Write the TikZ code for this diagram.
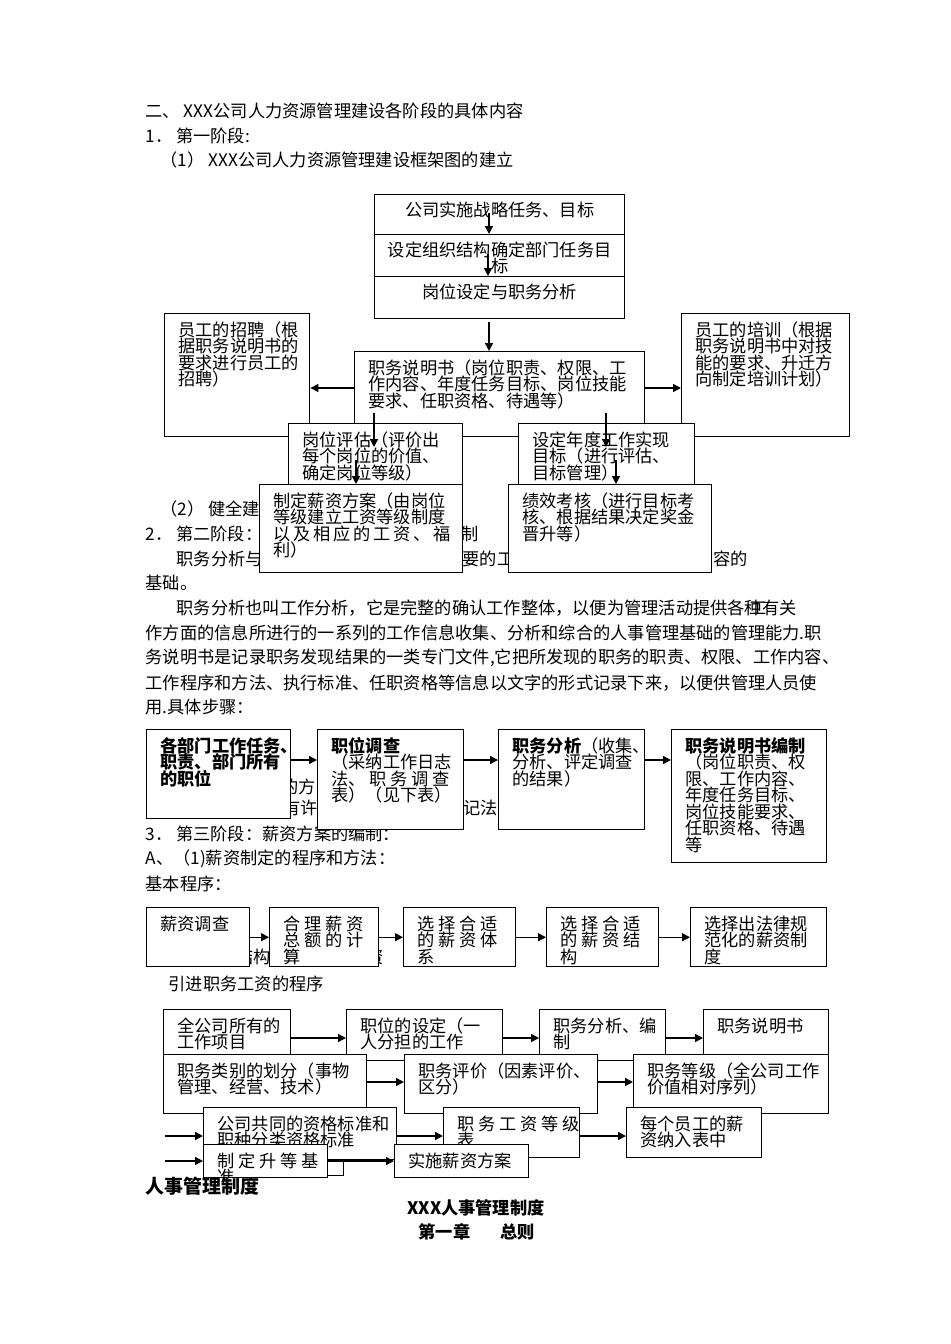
\documentclass[tikz,border=0pt]{standalone}
\usepackage{fontspec}
\setmainfont{Noto Sans CJK SC}
\usetikzlibrary{arrows.meta}
\setlength{\lineskiplimit}{-20pt}

\tikzset{
	>={Triangle[length=4.5pt,width=4.5pt]},
	wz/.style={inner sep=0pt, anchor=west, font=\fontsize{9.8}{9.4}\selectfont},
	kuang/.style={draw, fill=white, inner sep=0pt, anchor=north west},
	wh/.style 2 args={minimum width=#1*0.02cm, minimum height=#2*0.02cm},
	kt/.style={path picture={\node[draw=none, fill=none, inner sep=0pt, minimum width=0pt, minimum height=0pt, anchor=north west, align=left, font=\fontsize{9.8}{9.4}\selectfont] at ([xshift=0.26cm, yshift=-0.02cm]path picture bounding box.north west) {\rule{0pt}{1.2em}#1};}},
	kc/.style={path picture={\node[draw=none, fill=none, inner sep=0pt, minimum width=0pt, minimum height=0pt, anchor=north, align=center, font=\fontsize{9.8}{9.4}\selectfont] at ([yshift=-0.0cm]path picture bounding box.north) {\rule{0pt}{1.2em}#1};}},
}

\begin{document}
\begin{tikzpicture}[x=0.02cm, y=-0.02cm, line width=0.8pt]
	\path[use as bounding box, fill=white] (0,0) rectangle (950,1344);

	% text of the page
	\node[wz] (t1) at (145,111) {二、 XXX公司人力资源管理建设各阶段的具体内容};
	\node[wz] (t2) at (145,136) {1． 第一阶段:};
	\node[wz] (t3) at (160,160) {（1） XXX公司人力资源管理建设框架图的建立};
	\node[wz] (t4) at (160,509) {（2） 健全建立};
	\node[wz] (t5) at (145,534) {2． 第二阶段：};
	\node[wz] (t6) at (461,534) {制};
	\node[wz] (t7) at (176,559) {职务分析与};
	\node[wz] (t8) at (462,559) {要的工};
	\node[wz] (t9) at (713,559) {容的};
	\node[wz] (t10) at (145,583) {基础。};
	\node[wz] (t11) at (176,608) {职务分析也叫工作分析，它是完整的确认工作整体，以便为管理活动提供各种有关};
	\node[wz] (t11g) at (749,608) {工};
	\node[wz] (t12) at (145,633) {作方面的信息所进行的一系列的工作信息收集、分析和综合的人事管理基础的管理能力.职};
	\node[wz] (t13) at (145,658) {务说明书是记录职务发现结果的一类专门文件,它把所发现的职务的职责、权限、工作内容、};
	\node[wz] (t14) at (145,683) {工作程序和方法、执行标准、任职资格等信息以文字的形式记录下来，以便供管理人员使};
	\node[wz] (t15) at (145,707) {用.具体步骤：};
	\node[wz] (t16) at (281,787) {的方法};
	\node[wz] (t17) at (283,808) {有许};
	\node[wz] (t18) at (463,808) {记法};
	\node[wz] (t19) at (145,834) {3． 第三阶段：薪资方案的编制：};
	\node[wz] (t20) at (145,859) {A、（1)薪资制定的程序和方法：};
	\node[wz] (t21) at (145,884) {基本程序：};
	\node[wz] (t22) at (236,957) {结构};
	\node[wz] (t23) at (366,957) {资};
	\node[wz] (t24) at (168,984) {引进职务工资的程序};
	\node[wz, font=\fontsize{10.8}{13}\selectfont\bfseries] (t25) at (145,1186) {人事管理制度};
	\node[wz, anchor=center, font=\fontsize{9.8}{12}\selectfont\bfseries] (t26) at (476,1208) {XXX人事管理制度};
	\node[wz, font=\fontsize{9.8}{12}\selectfont\bfseries] (t27) at (418,1232) {第一章\hspace{0.6cm}总则};

	% framework
	\node[kuang, wh={250}{40}, kc={公司实施战略任务、目标}] (zl1) at (374,194) {};
	\node[kuang, wh={250}{42}, kc={设定组织结构确定部门任务目\\标}] (zl2) at (374,234) {};
	\node[kuang, wh={250}{42}, kc={岗位设定与职务分析}] (zl3) at (374,276) {};
	\node[kuang, wh={145}{123}, kt={员工的招聘（根\\据职务说明书的\\要求进行员工的\\招聘）}] (zhaopin) at (164,313) {};
	\node[kuang, wh={168}{123}, kt={员工的培训（根据\\职务说明书中对技\\能的要求、升迁方\\向制定培训计划）}] (peixun) at (681,313) {};
	\node[kuang, wh={290}{85}, kt={职务说明书（岗位职责、权限、工\\作内容、年度任务目标、岗位技能\\要求、任职资格、待遇等）}] (smsh) at (354,351) {};
	\node[kuang, wh={174}{61}, kt={岗位评估（评价出\\每个岗位的价值、\\确定岗位等级）}] (gwpg) at (288,423) {};
	\node[kuang, wh={176}{61}, kt={设定年度工作实现\\目标（进行评估、\\目标管理）}] (ndmb) at (518,423) {};
	\node[kuang, wh={203}{88}, kt={制定薪资方案（由岗位\\等级建立工资等级制度\\\makebox[3.54cm][l]{以\hfill 及\hfill 相\hfill 应\hfill 的\hfill 工\hfill 资\hfill 、\hfill 福}\\利）}] (xzfa) at (259,484) {};
	\node[kuang, wh={203}{88}, kt={绩效考核（进行目标考\\核、根据结果决定奖金\\晋升等）}] (jxkh) at (508,484) {};

	% steps
	\node[kuang, wh={144}{89}, kt={\textbf{各部门工作任务、}\\\textbf{职责、部门所有}\\\textbf{的职位}}] (bz1) at (146,729) {};
	\node[kuang, wh={146}{100}, kt={\textbf{职位调查}\\（采纳工作日志\\法、 职 务 调 查\\表）（见下表）}] (bz2) at (317,729) {};
	\node[kuang, wh={146}{100}, kt={\textbf{职务分析}（收集、\\分析、评定调查\\的结果）}] (bz3) at (498,729) {};
	\node[kuang, wh={155}{133}, kt={\textbf{职务说明书编制}\\（岗位职责、权\\限、工作内容、\\年度任务目标、\\岗位技能要求、\\任职资格、待遇\\等}] (bz4) at (671,729) {};

	% basic procedure
	\node[kuang, wh={103}{59}, kt={薪资调查}] (xz1) at (146,907) {};
	\node[kuang, wh={109}{59}, kt={合 理 薪 资\\总 额 的 计\\算}] (xz2) at (269,907) {};
	\node[kuang, wh={112}{59}, kt={选 择 合 适\\的 薪 资 体\\系}] (xz3) at (403,907) {};
	\node[kuang, wh={112}{59}, kt={选 择 合 适\\的 薪 资 结\\构}] (xz4) at (546,907) {};
	\node[kuang, wh={136}{59}, kt={选择出法律规\\范化的薪资制\\度}] (xz5) at (690,907) {};

	% job wage procedure
	\node[kuang, wh={127}{51}, kt={全公司所有的\\工作项目}] (gz1) at (163,1009) {};
	\node[kuang, wh={156}{51}, kt={职位的设定（一\\人分担的工作}] (gz2) at (346,1009) {};
	\node[kuang, wh={126}{51}, kt={职务分析、编\\制}] (gz3) at (539,1009) {};
	\node[kuang, wh={125}{51}, kt={职务说明书}] (gz4) at (703,1009) {};
	\node[kuang, wh={203}{59}, kt={职务类别的划分（事物\\管理、经营、技术）}] (gz5) at (163,1054) {};
	\node[kuang, wh={193}{59}, kt={职务评价（因素评价、\\区分）}] (gz6) at (404,1054) {};
	\node[kuang, wh={195}{59}, kt={职务等级（全公司工作\\价值相对序列）}] (gz7) at (633,1054) {};
	\node[kuang, wh={193}{52}, kt={公司共同的资格标准和\\职种分类资格标准}] (gz8) at (203,1107) {};
	\node[kuang, wh={136}{50}, kt={职 务 工 资 等 级\\表}] (gz9) at (443,1107) {};
	\node[kuang, wh={135}{50}, kt={每个员工的薪\\资纳入表中}] (gz10) at (626,1107) {};
	\node[kuang, wh={81}{16}] (gz11) at (262,1159) {};
	\node[kuang, wh={124}{33}, kt={制 定 升 等 基\\准}] (gz12) at (203,1144) {};
	\node[kuang, wh={134}{33}, kt={实施薪资方案}] (gz13) at (394,1144) {};

	\coordinate (a1) at (489,213);
	\coordinate (a2) at (488,254);
	\coordinate (a3) at (489,322);
	\coordinate (g1) at (374,413);
	\coordinate (g1e) at (374,447);
	\coordinate (g2) at (356,460);
	\coordinate (n1) at (606,413);
	\coordinate (n1e) at (606,447);
	\coordinate (n2) at (616,460);
	\coordinate (h1) at (0,388);
	\coordinate (h2) at (0,760);
	\coordinate (r1) at (0,1038);
	\coordinate (r2) at (0,1082);
	\coordinate (r3) at (165,1136);
	\coordinate (r4) at (165,1161);

	\draw [->] (a1) -- (a1 |- zl2.north);
	\draw [->] (a2) -- (a2 |- zl3.north);
	\draw [->] (a3) -- (a3 |- smsh.north);
	\draw [->] (smsh.west |- h1) -- (zhaopin.east |- h1);
	\draw [->] (smsh.east |- h1) -- (peixun.west |- h1);
	\draw [->] (g1) -- (g1e);
	\draw [->] (g2) -- (g2 |- xzfa.north);
	\draw [->] (n1) -- (n1e);
	\draw [->] (n2) -- (n2 |- jxkh.north);

	\draw [->] (bz1.east |- h2) -- (bz2.west |- h2);
	\draw [->] (bz2.east |- h2) -- (bz3.west |- h2);
	\draw [->] (bz3.east |- h2) -- (bz4.west |- h2);

	\draw [->] (xz1) -- (xz2);
	\draw [->] (xz2) -- (xz3);
	\draw [->] (xz3) -- (xz4);
	\draw [->] (xz4) -- (xz5);

	\draw [->] (gz1.east |- r1) -- (gz2.west |- r1);
	\draw [->] (gz2.east |- r1) -- (gz3.west |- r1);
	\draw [->] (gz3.east |- r1) -- (gz4.west |- r1);
	\draw [->] (gz5.east |- r2) -- (gz6.west |- r2);
	\draw [->] (gz6.east |- r2) -- (gz7.west |- r2);
	\draw [->] (r3) -- (gz8.west |- r3);
	\draw [->] (gz8.east |- r3) -- (gz9.west |- r3);
	\draw [->] (gz9.east |- r3) -- (gz10.west |- r3);
	\draw [->] (r4) -- (gz12.west |- r4);
	\draw [->] (gz12.east |- r4) -- (gz13.west |- r4);
\end{tikzpicture}
\end{document}
